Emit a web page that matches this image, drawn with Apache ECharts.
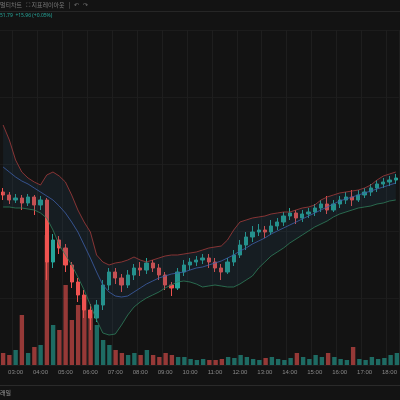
<!DOCTYPE html>
<html><head><meta charset="utf-8">
<script src="https://cdn.jsdelivr.net/npm/echarts@6/dist/echarts.min.js"></script>
<style>html,body{margin:0;background:#131313}#c{width:400px;height:400px}</style>
</head><body><div id="c"></div>
<script>
// 15 min candles from 02:30, [open, close, low, high]
var candles = [
  [208,205,200,212],[205,200,196,208],[200,202,197,206],[202,197,190,205],[197,203,194,206],
  [203,195,185,205],[195,200,190,204],[200,138,120,202],[138,160,132,166],[160,152,146,164],
  [152,135,128,156],[135,118,112,138],[118,105,98,122],[105,90,82,110],[90,82,70,96],
  [82,95,78,100],[95,115,90,120],[115,128,110,132],[128,122,116,132],[122,115,108,126],
  [115,125,112,130],[125,132,120,136],[132,130,124,138],[130,137,126,142],[137,132,128,140],
  [132,125,120,136],[125,115,110,128],[115,112,104,118],[112,128,110,132],[128,135,124,140],
  [135,138,130,142],[138,140,134,144],[140,142,136,146],[142,138,132,146],[138,132,128,142],
  [132,128,120,136],[128,138,126,142],[138,145,134,150],[145,155,142,160],[155,163,150,168],
  [163,168,158,174],[168,170,164,176],[170,168,162,174],[168,174,165,180],[174,178,170,182],
  [178,184,174,188],[184,187,180,192],[187,182,176,190],[182,186,178,190],[186,188,182,192],
  [188,192,184,196],[192,196,188,200],[196,190,186,204],[190,196,188,200],[196,200,192,204],
  [200,203,196,208],[203,200,194,210],[200,205,198,210],[205,208,202,212],[208,212,204,216],
  [212,216,208,220],[216,218,212,222],[218,220,214,224],[220,222,216,226]
];
var bbUpper = [275,260,240,228,222,218,215,225,228,224,218,205,190,178,168,145,138,135,137,138,
  140,143,140,138,140,142,144,145,145,146,147,148,150,152,153,154,160,170,178,180,
  182,183,184,186,187,188,188,190,192,193,195,200,203,205,207,208,209,210,212,215,
  220,224,226,228];
var bbMid = [233,228,223,219,216,212,208,204,200,194,187,178,168,155,142,128,115,108,104,103,
  104,108,112,116,119,122,124,126,127,128,130,132,133,135,137,139,142,145,149,152,
  156,159,162,166,169,172,175,178,181,184,187,190,193,196,199,201,203,205,207,209,
  211,213,215,217];
var bbLower = [193,193,192,192,191,190,187,182,170,155,145,135,123,110,95,80,67,65,66,75,
  85,93,98,102,105,108,112,115,118,119,118,116,113,114,115,114,113,113,116,120,
  124,132,138,144,148,152,157,161,165,169,173,176,179,183,186,188,190,192,193,194,
  196,197,199,200];
var volumes = [12,10,15,50,12,18,20,130,40,35,80,45,60,70,55,40,25,20,15,12,10,12,10,15,10,8,12,10,8,8,
  6,5,6,5,5,6,8,7,10,8,6,5,7,8,6,5,7,12,8,6,10,8,12,8,6,5,18,6,5,8,6,7,10,12];
var startHour = 2, startMin = 30;

var UP = '#26a69a', DOWN = '#ef5350';
var times = candles.map(function (d, i) {
  var m = startHour * 60 + startMin + i * 15;
  var h = Math.floor(m / 60), mm = m % 60;
  return (h < 10 ? '0' : '') + h + ':' + (mm < 10 ? '0' : '') + mm;
});
var volData = volumes.map(function (v, i) {
  var up = candles[i][1] >= candles[i][0];
  return {value: v, itemStyle: {color: up ? 'rgba(38,166,154,0.6)' : 'rgba(239,83,80,0.6)'}};
});
var bandWidth = bbUpper.map(function (u, i) { return u - bbLower[i]; });

var chart = echarts.init(document.getElementById('c'));
chart.setOption({
  backgroundColor: '#131313',
  animation: false,
  graphic: [
    {type: 'text', left: 0, top: 2, style: {text: '멀티차트   ⛶ 지표레이아웃   |   ↶   ↷', fill: '#777', fontSize: 6, fontFamily: 'Noto Sans CJK KR'}},
    {type: 'rect', shape: {x: 0, y: 11, width: 400, height: 1}, style: {fill: '#262626'}},
    {type: 'text', left: 0, top: 13, style: {text: '51.79  +15.96 (+0.05%)', fill: '#26a69a', fontSize: 5, fontFamily: 'Noto Sans'}},
    {type: 'rect', shape: {x: 0, y: 385, width: 400, height: 1}, style: {fill: '#2a2a2a'}},
    {type: 'text', left: 0, top: 390, style: {text: '래일', fill: '#999', fontSize: 6, fontFamily: 'Noto Sans CJK KR'}}
  ],
  grid: [
    {left: 0, right: 0, top: 30, bottom: 35},
    {left: 0, right: 0, height: 150, bottom: 35}
  ],
  xAxis: [
    {type: 'category', data: times, gridIndex: 0, boundaryGap: true,
      axisLine: {show: false}, axisTick: {show: false},
      axisLabel: {color: '#888', fontSize: 6, margin: 4,
        interval: function (i, v) { return v.slice(3) === '00'; }},
      splitLine: {show: true, interval: function (i, v) { return v.slice(3) === '00'; },
        lineStyle: {color: '#1e1e1e'}}},
    {type: 'category', data: times, gridIndex: 1, boundaryGap: true,
      axisLine: {show: false}, axisTick: {show: false}, axisLabel: {show: false}}
  ],
  yAxis: [
    {type: 'value', gridIndex: 0, min: 35, max: 370, interval: 67,
      axisLabel: {show: false}, axisLine: {show: false},
      splitLine: {lineStyle: {color: '#1c1c1c'}}},
    {type: 'value', gridIndex: 1, min: 0, max: 150, show: false, splitLine: {show: false}}
  ],
  series: [
    {type: 'bar', xAxisIndex: 1, yAxisIndex: 1, data: volData, barWidth: '70%'},
    {type: 'line', data: bbLower, stack: 'bb', symbol: 'none',
      lineStyle: {color: '#2e7d5b', width: 0.8}},
    {type: 'line', data: bandWidth, stack: 'bb', symbol: 'none',
      lineStyle: {width: 0}, areaStyle: {color: 'rgba(40,70,95,0.3)'}},
    {type: 'line', data: bbUpper, symbol: 'none', lineStyle: {color: '#a33b3b', width: 0.8}},
    {type: 'line', data: bbMid, symbol: 'none', lineStyle: {color: '#3d5fa8', width: 0.8}},
    {type: 'candlestick', data: candles, barWidth: '60%',
      itemStyle: {color: UP, color0: DOWN, borderColor: UP, borderColor0: DOWN}}
  ]
});
</script></body></html>
